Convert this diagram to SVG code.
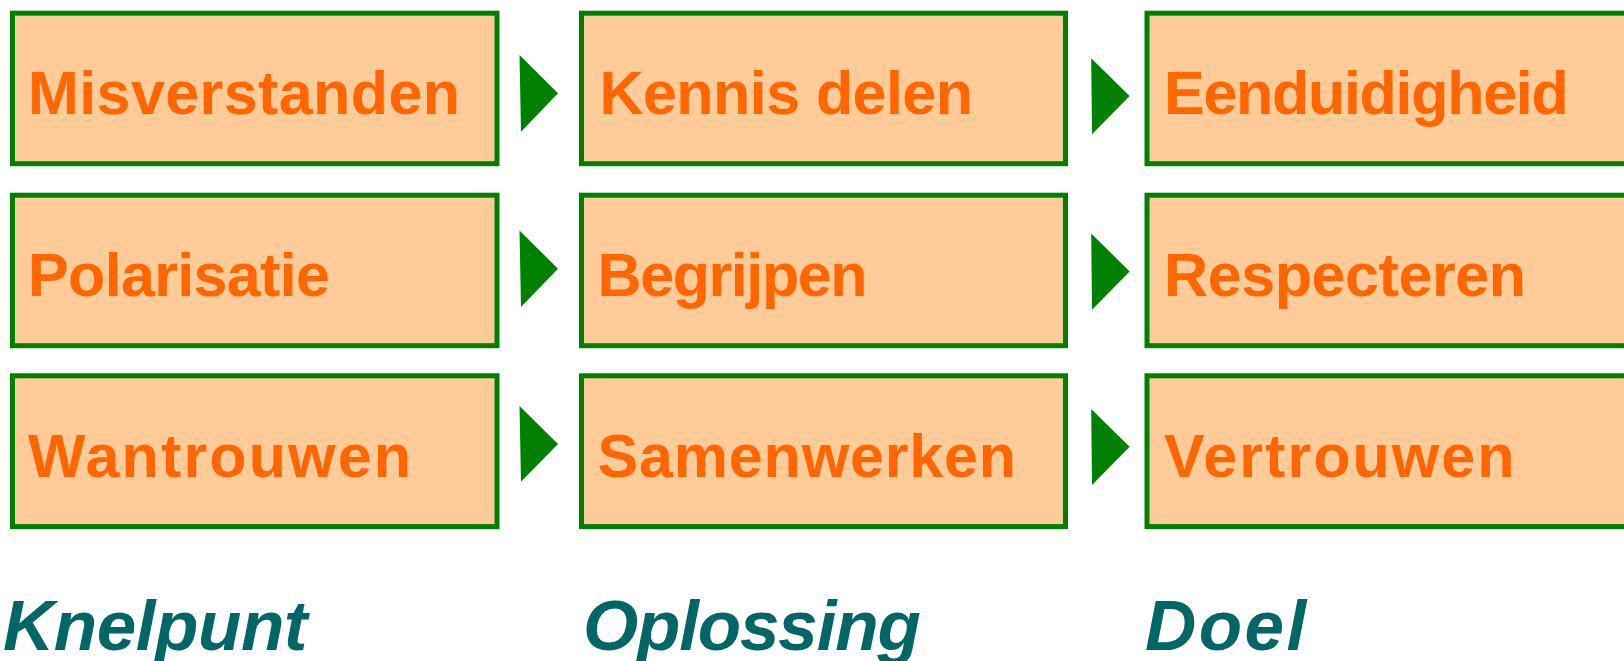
<svg xmlns="http://www.w3.org/2000/svg" width="1624" height="661" viewBox="0 0 1624 661">
<style>
.box{fill:#FFCC99;stroke:#008000;stroke-width:5}
.t{font-family:"Liberation Sans",Arial,sans-serif;font-weight:bold;font-size:61px;fill:#FF6600}
.h{font-family:"Liberation Sans",Arial,sans-serif;font-weight:bold;font-style:italic;font-size:71px;fill:#006666}
.arr{fill:#008000}
</style>
<rect width="1624" height="661" fill="#FFFFFF"/>
<g id="n-misverstanden"><rect class="box" x="12.5" y="13.2" width="484.5" height="150.5"/><text class="t" x="28" y="113.5" textLength="432" lengthAdjust="spacing">Misverstanden</text></g>
<g id="n-polarisatie"><rect class="box" x="12.5" y="195.2" width="484.5" height="150.5"/><text class="t" x="28" y="295.5" textLength="302" lengthAdjust="spacing">Polarisatie</text></g>
<g id="n-wantrouwen"><rect class="box" x="12.5" y="375.8" width="484.5" height="150.8"/><text class="t" x="28" y="476.5" textLength="383" lengthAdjust="spacing">Wantrouwen</text></g>
<g id="n-kennis"><rect class="box" x="581.5" y="13.2" width="484" height="150.5"/><text class="t" x="599.5" y="113.5" textLength="373.5" lengthAdjust="spacing">Kennis delen</text></g>
<g id="n-begrijpen"><rect class="box" x="581.5" y="195.2" width="484" height="150.5"/><text class="t" x="597.5" y="295.5" textLength="270" lengthAdjust="spacing">Begrijpen</text></g>
<g id="n-samenwerken"><rect class="box" x="581.5" y="375.8" width="484" height="150.8"/><text class="t" x="597.5" y="476.5" textLength="418.5" lengthAdjust="spacing">Samenwerken</text></g>
<g id="n-eenduidigheid"><rect class="box" x="1147" y="13.2" width="484" height="150.5"/><text class="t" x="1164" y="113.5" textLength="404.7" lengthAdjust="spacing">Eenduidigheid</text></g>
<g id="n-respecteren"><rect class="box" x="1147" y="195.2" width="484" height="150.5"/><text class="t" x="1164" y="295.5" textLength="362" lengthAdjust="spacing">Respecteren</text></g>
<g id="n-vertrouwen"><rect class="box" x="1147" y="375.8" width="484" height="150.8"/><text class="t" x="1164" y="476.5" textLength="350.4" lengthAdjust="spacing">Vertrouwen</text></g>
<g id="connectors">
<polygon class="arr" points="519.5,55 521,131.7 558,93.3"/>
<polygon class="arr" points="519.5,230.5 521,307 558,268.8"/>
<polygon class="arr" points="519.5,406 521,481.7 558,444"/>
<polygon class="arr" points="1091.2,58.3 1092,134.3 1129.6,96"/>
<polygon class="arr" points="1091.2,233.5 1092,309.7 1129.6,271.4"/>
<polygon class="arr" points="1091.2,409 1092,485 1129.6,446.7"/>
</g>
<g id="labels">
<text class="h" x="3" y="650" textLength="304.5" lengthAdjust="spacing">Knelpunt</text>
<text class="h" x="583" y="650" textLength="337.8" lengthAdjust="spacing">Oplossing</text>
<text class="h" x="1145" y="650" textLength="161.3" lengthAdjust="spacing">Doel</text>
</g>
</svg>
